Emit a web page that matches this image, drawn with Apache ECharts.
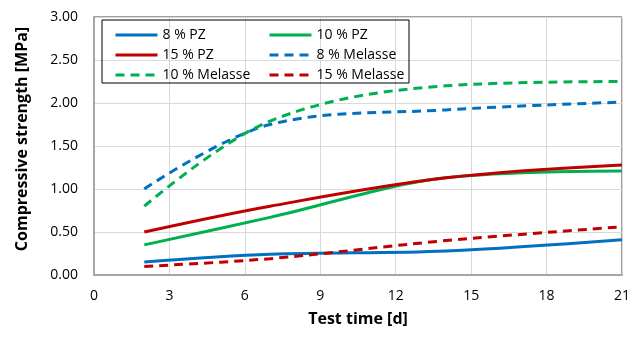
<!DOCTYPE html>
<html>
<head>
<meta charset="utf-8">
<script src="https://cdn.jsdelivr.net/npm/echarts@6/dist/echarts.min.js"></script>
<style>
  html, body { margin: 0; padding: 0; background: #fff; }
  #chart { width: 633px; height: 337px; }
</style>
</head>
<body>
<div id="chart"></div>
<script>
// test days
const days = [2, 7, 14, 21];

// compressive strength [MPa]
const pz8 = [0.15, 0.24, 0.28, 0.41];
const pz10 = [0.35, 0.67, 1.13, 1.21];
const pz15 = [0.50, 0.80, 1.13, 1.28];
const mel8 = [1.00, 1.75, 1.92, 2.01];
const mel10 = [0.80, 1.79, 2.20, 2.25];
const mel15 = [0.10, 0.19, 0.40, 0.56];

const BLUE = '#0070C0';
const GREEN = '#00B050';
const RED = '#C00000';
const FONT = '"Open Sans", "Noto Sans", sans-serif';

const pairs = (arr) => days.map((d, i) => [d, arr[i]]);

function line(name, arr, color, dashed) {
  return {
    name: name,
    type: 'line',
    data: pairs(arr),
    smooth: 0.35,
    symbol: 'none',
    lineStyle: { color: color, width: 3, type: dashed ? [9, 6] : 'solid' },
    itemStyle: { color: color },
  };
}

function legend(left, names) {
  return {
    left: left,
    top: 23,
    orient: 'vertical',
    itemWidth: 42,
    itemHeight: 14,
    itemGap: 6,
    itemStyle: { opacity: 0 },
    lineStyle: { width: 3 },
    data: names,
    textStyle: { fontFamily: FONT, fontSize: 14, color: '#000' },
  };
}

const chart = echarts.init(document.getElementById('chart'));
chart.setOption({
  animation: false,
  grid: { left: 94, right: 9, top: 17, bottom: 62, show: true, borderColor: '#404040', borderWidth: 1 },
  legend: [
    legend(109, ['8 % PZ', '15 % PZ', '10 % Melasse']),
    legend(263, ['10 % PZ', '8 % Melasse', '15 % Melasse']),
  ],
  graphic: [{
    type: 'rect',
    shape: { x: 102, y: 20, width: 307, height: 63 },
    style: { fill: 'none', stroke: '#000', lineWidth: 1 },
    z: 10,
  }],
  xAxis: {
    type: 'value',
    min: 0, max: 21, interval: 3,
    name: 'Test time [d]',
    nameLocation: 'middle',
    nameGap: 36,
    nameTextStyle: { fontFamily: FONT, fontSize: 16, fontWeight: 'bold', color: '#000' },
    axisLine: { show: true, lineStyle: { color: '#a6a6a6', width: 2 } },
    axisTick: { show: false },
    axisLabel: { fontFamily: FONT, fontSize: 14, color: '#000', margin: 14 },
    splitLine: { show: true, lineStyle: { color: '#d9d9d9', width: 1 } },
  },
  yAxis: {
    type: 'value',
    min: 0, max: 3, interval: 0.5,
    name: 'Compressive strength [MPa]',
    nameLocation: 'middle',
    nameGap: 64,
    nameTextStyle: { fontFamily: FONT, fontSize: 16, fontWeight: 'bold', color: '#000', padding: [0, 0, 0, 14] },
    axisLine: { show: true, lineStyle: { color: '#a6a6a6', width: 2 } },
    axisTick: { show: false },
    axisLabel: { fontFamily: FONT, fontSize: 14, color: '#000', margin: 16, formatter: (v) => v.toFixed(2) },
    splitLine: { show: true, lineStyle: { color: '#d9d9d9', width: 1 } },
  },
  series: [
    line('8 % PZ', pz8, BLUE, false),
    line('10 % PZ', pz10, GREEN, false),
    line('15 % PZ', pz15, RED, false),
    line('8 % Melasse', mel8, BLUE, true),
    line('10 % Melasse', mel10, GREEN, true),
    line('15 % Melasse', mel15, RED, true),
  ],
});
</script>
</body>
</html>
